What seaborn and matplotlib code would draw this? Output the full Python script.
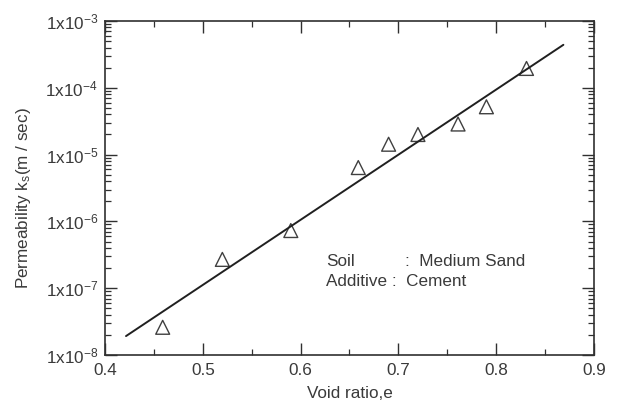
import matplotlib
matplotlib.use("Agg")
import matplotlib.pyplot as plt
import matplotlib.ticker as mticker
import seaborn as sns
import pandas as pd
import numpy as np

# Data
void_ratio = [0.459, 0.520, 0.590, 0.659, 0.690, 0.720, 0.761, 0.790, 0.831]
permeability = [2.6e-8, 2.7e-7, 7.3e-7, 6.4e-6, 1.43e-5, 2.0e-5, 2.87e-5, 5.2e-5, 1.95e-4]
fit_e = [0.4215, 0.8687]
fit_k = [1.92e-8, 4.4e-4]
x_ticks = [0.4, 0.5, 0.6, 0.7, 0.8, 0.9]
y_ticks = [1e-8, 1e-7, 1e-6, 1e-5, 1e-4, 1e-3]
y_tick_labels = [r"1x10$^{-8}$", r"1x10$^{-7}$", r"1x10$^{-6}$",
                 r"1x10$^{-5}$", r"1x10$^{-4}$", r"1x10$^{-3}$"]

sns.set_style("ticks")
plt.rcParams["font.family"] = ["Liberation Sans", "DejaVu Sans"]
plt.rcParams["mathtext.default"] = "regular"
txt = "#3a3a3a"
fs = 12.3

df = pd.DataFrame({"e": void_ratio, "k": permeability})
fit = pd.DataFrame({"e": fit_e, "k": fit_k})

fig = plt.figure(figsize=(6.19, 4.03), dpi=100)
ax = fig.add_axes([0.1696, 0.1191, 0.7900, 0.8288])

sns.lineplot(data=fit, x="e", y="k", ax=ax, color="#202020", linewidth=1.4)
sns.scatterplot(data=df, x="e", y="k", ax=ax, marker="^", s=100,
                facecolor="none", edgecolor="#404040", linewidth=1.0)

ax.set_yscale("log")
ax.set_xlim(0.4, 0.9)
ax.set_ylim(1e-8, 1e-3)
ax.set_xticks(x_ticks)
ax.set_xticklabels([f"{v:g}" for v in x_ticks])
ax.xaxis.set_minor_locator(mticker.MultipleLocator(0.05))
ax.set_yticks(y_ticks)
ax.set_yticklabels(y_tick_labels)
ax.yaxis.set_minor_locator(mticker.LogLocator(base=10, subs=np.arange(2, 10)))
ax.yaxis.set_minor_formatter(mticker.NullFormatter())

ax.tick_params(which="both", direction="in", top=True, right=True,
               colors="#303030", labelcolor=txt, labelsize=fs)
ax.tick_params(which="major", length=8.5, width=1.0)
ax.tick_params(which="minor", length=4, width=0.9)
ax.tick_params(axis="x", pad=6)
ax.tick_params(axis="y", pad=5)
for s in ax.spines.values():
    s.set_color("#303030")
    s.set_linewidth(1.2)

ax.set_xlabel("Void ratio,e", fontsize=fs, color=txt)
ax.set_ylabel("Permeability k$_s$(m / sec)", fontsize=fs, color=txt)
ax.xaxis.set_label_coords(0.5, -0.093)
ax.yaxis.set_label_coords(-0.147, 0.47)

ax.text(0.626, 2.47e-7, "Soil", fontsize=fs, color=txt, va="center")
ax.text(0.707, 2.47e-7, ":  Medium Sand", fontsize=fs, color=txt, va="center")
ax.text(0.626, 1.24e-7, "Additive :  Cement", fontsize=fs, color=txt, va="center")

fig.savefig("out.png", dpi=100)
